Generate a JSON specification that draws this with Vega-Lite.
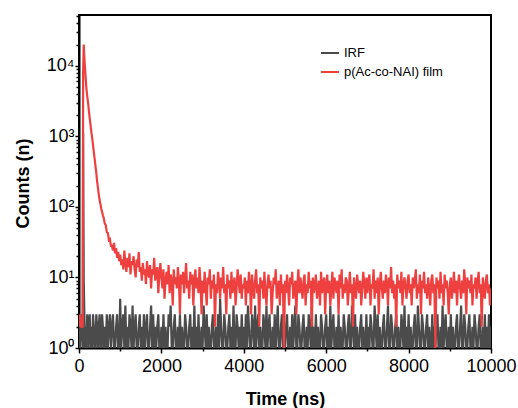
{
"$schema": "https://vega.github.io/schema/vega-lite/v6.json",
"width": 412, "height": 333,
"autosize": "none",
"padding": {"left": 79, "top": 15, "right": 27, "bottom": 60},
"config": {
 "font": "Liberation Sans",
 "view": {"stroke": "black", "strokeWidth": 2},
 "axis": {"grid": false, "labelFlush": false, "labelOverlap": false, "labelColor": "black", "tickColor": "black", "domainColor": "black", "titleColor": "black", "zindex": 1}
},
"data": {"values": [
{"t":0,"IRF":2,"film":2},{"t":25,"IRF":1,"film":3},{"t":50,"IRF":3,"film":2},{"t":75,"IRF":2,"film":2},{"t":90,"IRF":1,"film":2},
{"t":100,"IRF":1100,"film":8000},{"t":115,"IRF":9,"film":20000},{"t":130,"IRF":3,"film":13000},{"t":145,"IRF":1,"film":9500},
{"t":160,"IRF":2,"film":7000},{"t":180,"IRF":1,"film":4800},{"t":200,"IRF":3,"film":3700},{"t":220,"IRF":1,"film":3000},
{"t":240,"IRF":2,"film":2300},{"t":260,"IRF":3,"film":1800},{"t":280,"IRF":1,"film":1450},{"t":300,"IRF":2,"film":1150},
{"t":320,"IRF":1,"film":950},{"t":340,"IRF":3,"film":760},{"t":360,"IRF":2,"film":600},{"t":380,"IRF":1,"film":480},
{"t":400,"IRF":1,"film":380},{"t":420,"IRF":3,"film":300},{"t":440,"IRF":2,"film":230},{"t":460,"IRF":1,"film":185},
{"t":480,"IRF":2,"film":150},{"t":500,"IRF":3,"film":125},{"t":520,"IRF":1,"film":110},{"t":540,"IRF":1,"film":95},
{"t":560,"IRF":3,"film":85},{"t":580,"IRF":2,"film":76},{"t":600,"IRF":1,"film":70},{"t":625,"IRF":2,"film":58},
{"t":650,"IRF":1,"film":55},{"t":675,"IRF":3,"film":44},{"t":700,"IRF":1,"film":43},{"t":725,"IRF":2,"film":34},
{"t":750,"IRF":3,"film":35},{"t":775,"IRF":1,"film":28},
{"t":800,"IRF":2,"film":28},{"t":825,"IRF":3,"film":24},{"t":850,"IRF":1,"film":31},{"t":875,"IRF":1,"film":22},
{"t":900,"IRF":2,"film":26},{"t":925,"IRF":3,"film":19},{"t":950,"IRF":1,"film":23},{"t":975,"IRF":1,"film":17},
{"t":1000,"IRF":5,"film":21},{"t":1025,"IRF":1,"film":15},{"t":1050,"IRF":2,"film":18},{"t":1075,"IRF":3,"film":13},
{"t":1100,"IRF":1,"film":24},{"t":1125,"IRF":4,"film":16},{"t":1150,"IRF":1,"film":12},{"t":1175,"IRF":2,"film":19},
{"t":1200,"IRF":1,"film":14},{"t":1225,"IRF":3,"film":22},{"t":1250,"IRF":2,"film":11},{"t":1275,"IRF":1,"film":17},
{"t":1300,"IRF":4,"film":15},{"t":1325,"IRF":1,"film":20},{"t":1350,"IRF":2,"film":13},{"t":1375,"IRF":3,"film":10},
{"t":1400,"IRF":1,"film":18},{"t":1425,"IRF":1,"film":14},{"t":1450,"IRF":2,"film":23},{"t":1475,"IRF":3,"film":12},
{"t":1500,"IRF":1,"film":14},{"t":1525,"IRF":2,"film":9},{"t":1550,"IRF":1,"film":16},{"t":1575,"IRF":3,"film":11},
{"t":1600,"IRF":1,"film":13},{"t":1625,"IRF":2,"film":8},{"t":1650,"IRF":3,"film":17},{"t":1675,"IRF":1,"film":12},
{"t":1700,"IRF":1,"film":10},{"t":1725,"IRF":2,"film":15},{"t":1750,"IRF":4,"film":7},{"t":1775,"IRF":1,"film":13},
{"t":1800,"IRF":3,"film":11},{"t":1825,"IRF":1,"film":19},{"t":1850,"IRF":2,"film":9},{"t":1875,"IRF":1,"film":12},
{"t":1900,"IRF":2,"film":14},{"t":1925,"IRF":3,"film":6},{"t":1950,"IRF":1,"film":11},{"t":1975,"IRF":1,"film":16},
{"t":2000,"IRF":2,"film":10},{"t":2025,"IRF":1,"film":7},{"t":2050,"IRF":3,"film":13},{"t":2075,"IRF":1,"film":5},
{"t":2100,"IRF":2,"film":9},{"t":2125,"IRF":1,"film":12},{"t":2150,"IRF":1,"film":8},{"t":2175,"IRF":3,"film":15},
{"t":2200,"IRF":2,"film":6},{"t":2225,"IRF":4,"film":11},{"t":2250,"IRF":1,"film":9},{"t":2275,"IRF":1,"film":4},
{"t":2300,"IRF":2,"film":13},{"t":2325,"IRF":3,"film":8},{"t":2350,"IRF":1,"film":10},{"t":2375,"IRF":1,"film":7},
{"t":2400,"IRF":2,"film":14},{"t":2425,"IRF":1,"film":9},{"t":2450,"IRF":3,"film":3},{"t":2475,"IRF":1,"film":11},
{"t":2500,"IRF":2,"film":8},{"t":2525,"IRF":1,"film":12},{"t":2550,"IRF":1,"film":6},{"t":2575,"IRF":3,"film":10},
{"t":2600,"IRF":2,"film":16},{"t":2625,"IRF":1,"film":7},{"t":2650,"IRF":1,"film":9},{"t":2675,"IRF":2,"film":5},
{"t":2700,"IRF":3,"film":12},{"t":2725,"IRF":1,"film":8},{"t":2750,"IRF":2,"film":11},{"t":2775,"IRF":1,"film":4},
{"t":2800,"IRF":4,"film":9},{"t":2825,"IRF":1,"film":13},{"t":2850,"IRF":2,"film":7},{"t":2875,"IRF":1,"film":10},
{"t":2900,"IRF":3,"film":6},{"t":2925,"IRF":1,"film":14},{"t":2950,"IRF":1,"film":8},{"t":2975,"IRF":2,"film":3},
{"t":3000,"IRF":1,"film":9},{"t":3025,"IRF":4,"film":6},{"t":3050,"IRF":2,"film":12},{"t":3075,"IRF":1,"film":7},
{"t":3100,"IRF":3,"film":4},{"t":3125,"IRF":1,"film":10},{"t":3150,"IRF":2,"film":8},{"t":3175,"IRF":1,"film":13},
{"t":3200,"IRF":1,"film":5},{"t":3225,"IRF":2,"film":9},{"t":3250,"IRF":3,"film":7},{"t":3275,"IRF":1,"film":11},
{"t":3300,"IRF":1,"film":2},{"t":3325,"IRF":2,"film":8},{"t":3350,"IRF":1,"film":6},{"t":3375,"IRF":3,"film":12},
{"t":3400,"IRF":1,"film":9},{"t":3425,"IRF":5,"film":5},{"t":3450,"IRF":2,"film":10},{"t":3475,"IRF":1,"film":7},
{"t":3500,"IRF":1,"film":14},{"t":3525,"IRF":3,"film":6},{"t":3550,"IRF":2,"film":8},{"t":3575,"IRF":1,"film":3},
{"t":3600,"IRF":1,"film":11},{"t":3625,"IRF":2,"film":7},{"t":3650,"IRF":3,"film":9},{"t":3675,"IRF":1,"film":5},
{"t":3700,"IRF":2,"film":12},{"t":3725,"IRF":1,"film":6},{"t":3750,"IRF":4,"film":8},{"t":3775,"IRF":1,"film":10},
{"t":3800,"IRF":1,"film":4},{"t":3825,"IRF":3,"film":7},{"t":3850,"IRF":2,"film":13},{"t":3875,"IRF":1,"film":9},
{"t":3900,"IRF":2,"film":6},{"t":3925,"IRF":1,"film":11},{"t":3950,"IRF":3,"film":5},{"t":3975,"IRF":1,"film":8},
{"t":4000,"IRF":2,"film":7},{"t":4025,"IRF":1,"film":10},{"t":4050,"IRF":3,"film":4},{"t":4075,"IRF":1,"film":9},
{"t":4100,"IRF":4,"film":6},{"t":4125,"IRF":2,"film":12},{"t":4150,"IRF":1,"film":8},{"t":4175,"IRF":1,"film":3},
{"t":4200,"IRF":3,"film":11},{"t":4225,"IRF":2,"film":7},{"t":4250,"IRF":1,"film":5},{"t":4275,"IRF":4,"film":9},
{"t":4300,"IRF":1,"film":13},{"t":4325,"IRF":2,"film":6},{"t":4350,"IRF":3,"film":8},{"t":4375,"IRF":1,"film":2},
{"t":4400,"IRF":2,"film":10},{"t":4425,"IRF":1,"film":7},{"t":4450,"IRF":1,"film":9},{"t":4475,"IRF":3,"film":5},
{"t":4500,"IRF":2,"film":12},{"t":4525,"IRF":1,"film":6},{"t":4550,"IRF":4,"film":4},{"t":4575,"IRF":1,"film":8},
{"t":4600,"IRF":2,"film":11},{"t":4625,"IRF":3,"film":7},{"t":4650,"IRF":1,"film":9},{"t":4675,"IRF":1,"film":3},
{"t":4700,"IRF":2,"film":6},{"t":4725,"IRF":1,"film":10},{"t":4750,"IRF":3,"film":8},{"t":4775,"IRF":1,"film":13},
{"t":4800,"IRF":2,"film":5},{"t":4825,"IRF":4,"film":7},{"t":4850,"IRF":1,"film":9},{"t":4875,"IRF":1,"film":4},
{"t":4900,"IRF":2,"film":11},{"t":4925,"IRF":3,"film":6},{"t":4950,"IRF":1,"film":8},{"t":4975,"IRF":2,"film":1},
{"t":5000,"IRF":1,"film":9},{"t":5025,"IRF":2,"film":6},{"t":5050,"IRF":3,"film":11},{"t":5075,"IRF":1,"film":7},
{"t":5100,"IRF":1,"film":4},{"t":5125,"IRF":2,"film":10},{"t":5150,"IRF":1,"film":8},{"t":5175,"IRF":3,"film":12},
{"t":5200,"IRF":1,"film":5},{"t":5225,"IRF":2,"film":7},{"t":5250,"IRF":4,"film":9},{"t":5275,"IRF":1,"film":3},
{"t":5300,"IRF":1,"film":8},{"t":5325,"IRF":3,"film":13},{"t":5350,"IRF":2,"film":6},{"t":5375,"IRF":1,"film":10},
{"t":5400,"IRF":1,"film":7},{"t":5425,"IRF":2,"film":5},{"t":5450,"IRF":3,"film":9},{"t":5475,"IRF":1,"film":11},
{"t":5500,"IRF":1,"film":4},{"t":5525,"IRF":2,"film":8},{"t":5550,"IRF":1,"film":6},{"t":5575,"IRF":3,"film":12},
{"t":5600,"IRF":2,"film":7},{"t":5625,"IRF":1,"film":9},{"t":5650,"IRF":4,"film":2},{"t":5675,"IRF":1,"film":10},
{"t":5700,"IRF":2,"film":6},{"t":5725,"IRF":1,"film":8},{"t":5750,"IRF":3,"film":11},{"t":5775,"IRF":1,"film":5},
{"t":5800,"IRF":2,"film":7},{"t":5825,"IRF":1,"film":9},{"t":5850,"IRF":1,"film":4},{"t":5875,"IRF":3,"film":12},
{"t":5900,"IRF":2,"film":6},{"t":5925,"IRF":1,"film":8},{"t":5950,"IRF":1,"film":10},{"t":5975,"IRF":2,"film":3},
{"t":6000,"IRF":3,"film":8},{"t":6025,"IRF":1,"film":11},{"t":6050,"IRF":2,"film":6},{"t":6075,"IRF":1,"film":9},
{"t":6100,"IRF":4,"film":4},{"t":6125,"IRF":1,"film":7},{"t":6150,"IRF":2,"film":12},{"t":6175,"IRF":3,"film":5},
{"t":6200,"IRF":1,"film":10},{"t":6225,"IRF":1,"film":8},{"t":6250,"IRF":2,"film":6},{"t":6275,"IRF":1,"film":9},
{"t":6300,"IRF":3,"film":3},{"t":6325,"IRF":1,"film":11},{"t":6350,"IRF":2,"film":7},{"t":6375,"IRF":1,"film":13},
{"t":6400,"IRF":1,"film":5},{"t":6425,"IRF":3,"film":8},{"t":6450,"IRF":2,"film":6},{"t":6475,"IRF":1,"film":10},
{"t":6500,"IRF":1,"film":9},{"t":6525,"IRF":2,"film":4},{"t":6550,"IRF":3,"film":7},{"t":6575,"IRF":1,"film":12},
{"t":6600,"IRF":1,"film":6},{"t":6625,"IRF":4,"film":8},{"t":6650,"IRF":2,"film":2},{"t":6675,"IRF":1,"film":10},
{"t":6700,"IRF":3,"film":7},{"t":6725,"IRF":1,"film":5},{"t":6750,"IRF":2,"film":11},{"t":6775,"IRF":1,"film":8},
{"t":6800,"IRF":1,"film":6},{"t":6825,"IRF":2,"film":9},{"t":6850,"IRF":3,"film":4},{"t":6875,"IRF":1,"film":7},
{"t":6900,"IRF":2,"film":12},{"t":6925,"IRF":1,"film":8},{"t":6950,"IRF":1,"film":5},{"t":6975,"IRF":3,"film":10},
{"t":7000,"IRF":1,"film":6},{"t":7025,"IRF":2,"film":9},{"t":7050,"IRF":1,"film":11},{"t":7075,"IRF":3,"film":4},
{"t":7100,"IRF":2,"film":8},{"t":7125,"IRF":1,"film":7},{"t":7150,"IRF":1,"film":13},{"t":7175,"IRF":4,"film":5},
{"t":7200,"IRF":2,"film":9},{"t":7225,"IRF":1,"film":6},{"t":7250,"IRF":3,"film":10},{"t":7275,"IRF":1,"film":3},
{"t":7300,"IRF":2,"film":8},{"t":7325,"IRF":1,"film":12},{"t":7350,"IRF":1,"film":7},{"t":7375,"IRF":2,"film":5},
{"t":7400,"IRF":3,"film":9},{"t":7425,"IRF":1,"film":6},{"t":7450,"IRF":1,"film":11},{"t":7475,"IRF":2,"film":8},
{"t":7500,"IRF":4,"film":4},{"t":7525,"IRF":1,"film":10},{"t":7550,"IRF":1,"film":7},{"t":7575,"IRF":3,"film":14},
{"t":7600,"IRF":2,"film":6},{"t":7625,"IRF":1,"film":9},{"t":7650,"IRF":1,"film":5},{"t":7675,"IRF":2,"film":8},
{"t":7700,"IRF":3,"film":2},{"t":7725,"IRF":1,"film":11},{"t":7750,"IRF":2,"film":7},{"t":7775,"IRF":1,"film":9},
{"t":7800,"IRF":1,"film":6},{"t":7825,"IRF":3,"film":12},{"t":7850,"IRF":2,"film":4},{"t":7875,"IRF":1,"film":8},
{"t":7900,"IRF":4,"film":10},{"t":7925,"IRF":1,"film":7},{"t":7950,"IRF":2,"film":5},{"t":7975,"IRF":1,"film":9},
{"t":8000,"IRF":3,"film":11},{"t":8025,"IRF":1,"film":6},{"t":8050,"IRF":2,"film":8},{"t":8075,"IRF":1,"film":4},
{"t":8100,"IRF":1,"film":10},{"t":8125,"IRF":2,"film":7},{"t":8150,"IRF":3,"film":9},{"t":8175,"IRF":1,"film":13},
{"t":8200,"IRF":1,"film":5},{"t":8225,"IRF":4,"film":8},{"t":8250,"IRF":2,"film":6},{"t":8275,"IRF":1,"film":11},
{"t":8300,"IRF":1,"film":3},{"t":8325,"IRF":3,"film":9},{"t":8350,"IRF":2,"film":7},{"t":8375,"IRF":1,"film":12},
{"t":8400,"IRF":1,"film":6},{"t":8425,"IRF":2,"film":8},{"t":8450,"IRF":3,"film":5},{"t":8475,"IRF":1,"film":10},
{"t":8500,"IRF":2,"film":7},{"t":8525,"IRF":1,"film":4},{"t":8550,"IRF":1,"film":9},{"t":8575,"IRF":3,"film":11},
{"t":8600,"IRF":1,"film":6},{"t":8625,"IRF":2,"film":8},{"t":8650,"IRF":1,"film":1},{"t":8675,"IRF":2,"film":10},
{"t":8700,"IRF":3,"film":7},{"t":8725,"IRF":1,"film":9},{"t":8750,"IRF":1,"film":5},{"t":8775,"IRF":2,"film":12},
{"t":8800,"IRF":1,"film":6},{"t":8825,"IRF":4,"film":8},{"t":8850,"IRF":1,"film":4},{"t":8875,"IRF":2,"film":11},
{"t":8900,"IRF":3,"film":7},{"t":8925,"IRF":1,"film":9},{"t":8950,"IRF":1,"film":6},{"t":8975,"IRF":2,"film":3},
{"t":9000,"IRF":1,"film":8},{"t":9025,"IRF":3,"film":10},{"t":9050,"IRF":1,"film":5},{"t":9075,"IRF":2,"film":7},
{"t":9100,"IRF":1,"film":12},{"t":9125,"IRF":1,"film":6},{"t":9150,"IRF":2,"film":9},{"t":9175,"IRF":3,"film":4},
{"t":9200,"IRF":1,"film":8},{"t":9225,"IRF":1,"film":11},{"t":9250,"IRF":2,"film":7},{"t":9275,"IRF":4,"film":5},
{"t":9300,"IRF":1,"film":9},{"t":9325,"IRF":1,"film":6},{"t":9350,"IRF":3,"film":13},{"t":9375,"IRF":2,"film":8},
{"t":9400,"IRF":1,"film":3},{"t":9425,"IRF":1,"film":10},{"t":9450,"IRF":2,"film":7},{"t":9475,"IRF":3,"film":9},
{"t":9500,"IRF":1,"film":6},{"t":9525,"IRF":1,"film":11},{"t":9550,"IRF":2,"film":4},{"t":9575,"IRF":1,"film":8},
{"t":9600,"IRF":3,"film":7},{"t":9625,"IRF":2,"film":10},{"t":9650,"IRF":1,"film":5},{"t":9675,"IRF":1,"film":9},
{"t":9700,"IRF":2,"film":12},{"t":9725,"IRF":3,"film":6},{"t":9750,"IRF":1,"film":8},{"t":9775,"IRF":1,"film":2},
{"t":9800,"IRF":2,"film":10},{"t":9825,"IRF":1,"film":7},{"t":9850,"IRF":3,"film":5},{"t":9875,"IRF":1,"film":9},
{"t":9900,"IRF":2,"film":11},{"t":9925,"IRF":1,"film":6},{"t":9950,"IRF":3,"film":8},{"t":9975,"IRF":1,"film":4},
{"t":10000,"IRF":2,"film":7}
]},
"resolve": {"axis": {"x": "independent", "y": "independent"}},
"layer": [
 {
  "mark": {"type": "line", "clip": true, "strokeWidth": 2.2},
  "encoding": {
   "x": {"field": "t", "type": "quantitative",
     "scale": {"domain": [0, 10000], "nice": false, "zero": false},
     "axis": {"orient": "bottom", "values": [1000, 3000, 5000, 7000, 9000], "labels": false, "title": null, "domain": false, "tickSize": 3, "tickWidth": 1.5}},
   "y": {"field": "IRF", "type": "quantitative",
     "scale": {"type": "log", "domain": [1, 52500], "nice": false},
     "axis": {"orient": "left", "values": [2,3,4,5,6,7,8,9,20,30,40,50,60,70,80,90,200,300,400,500,600,700,800,900,2000,3000,4000,5000,6000,7000,8000,9000,20000,30000,40000,50000], "labels": false, "title": null, "domain": false, "tickSize": 3, "tickWidth": 1.5}},
   "color": {"datum": "IRF", "type": "nominal",
     "scale": {"domain": ["IRF", "p(Ac-co-NAI) film"], "range": ["#4b4b4b", "#ef4040"]},
     "legend": {"orient": "none", "legendX": 241, "legendY": 28, "title": null, "symbolType": "stroke", "symbolSize": 324, "symbolStrokeWidth": 2, "labelFontSize": 13, "labelFont": "Liberation Sans", "labelColor": "black", "labelOffset": 4, "rowPadding": 2, "padding": 0}}
  }
 },
 {
  "mark": {"type": "line", "clip": true, "strokeWidth": 2.2},
  "encoding": {
   "x": {"field": "t", "type": "quantitative",
     "scale": {"domain": [0, 10000], "nice": false, "zero": false},
     "axis": {"orient": "bottom", "values": [0, 2000, 4000, 6000, 8000, 10000], "format": "d", "labelFontSize": 18, "labelPadding": 4, "tickSize": 5, "tickWidth": 1.5, "domainWidth": 2,
       "title": "Time (ns)", "titleFontSize": 18, "titleFontWeight": "bold", "titleBaseline": "alphabetic", "titleX": 206, "titleY": 56}},
   "y": {"field": "film", "type": "quantitative",
     "scale": {"type": "log", "domain": [1, 52500], "nice": false},
     "axis": {"orient": "left", "values": [1, 10, 100, 1000, 10000],
       "labelExpr": "datum.value == 1 ? '10⁰' : datum.value == 10 ? '10¹' : datum.value == 100 ? '10²' : datum.value == 1000 ? '10³' : '10⁴'",
       "labelFontSize": 18, "labelPadding": 1, "tickSize": 4, "tickWidth": 1.5, "domainWidth": 2,
       "title": "Counts (n)", "titleFontSize": 18, "titleFontWeight": "bold", "titleBaseline": "alphabetic", "titleX": -51, "titleY": 168, "titleAngle": -90}},
   "color": {"datum": "p(Ac-co-NAI) film", "type": "nominal",
     "scale": {"domain": ["IRF", "p(Ac-co-NAI) film"], "range": ["#4b4b4b", "#ef4040"]},
     "legend": {"orient": "none", "legendX": 241, "legendY": 28, "title": null, "symbolType": "stroke", "symbolSize": 324, "symbolStrokeWidth": 2, "labelFontSize": 13, "labelFont": "Liberation Sans", "labelColor": "black", "labelOffset": 4, "rowPadding": 2, "padding": 0}}
  }
 }
]
}
